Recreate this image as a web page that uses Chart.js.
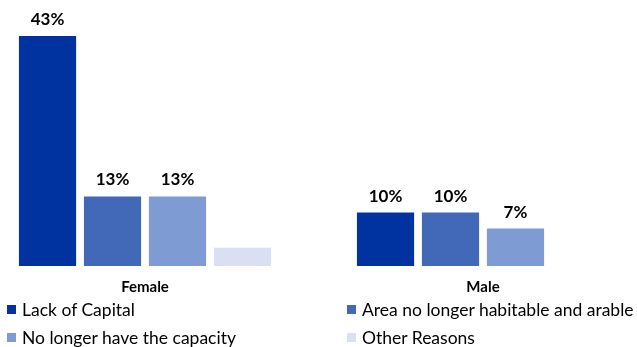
<!DOCTYPE html>
<html>
<head>
<meta charset="utf-8">
<script src="https://cdn.jsdelivr.net/npm/chart.js@4/dist/chart.umd.min.js"></script>
<style>
  html, body { margin: 0; padding: 0; background: #fff; }
  #wrap { position: relative; width: 637px; height: 347px; overflow: hidden; }
  #chart { position: absolute; left: -24px; top: 0; }
  #legend { position: absolute; left: 0; top: 0; width: 637px; height: 347px; pointer-events: none; }
  .item { position: absolute; display: flex; align-items: center; font-family: Lato, sans-serif; font-size: 17.5px; color: #000; height: 20px; white-space: nowrap; }
  .box { width: 9px; height: 9px; margin-right: 6px; }
</style>
</head>
<body>
<div id="wrap">
  <canvas id="chart" width="676" height="347"></canvas>
  <div id="legend"></div>
</div>
<script>
// categorias e séries
const categories = ['Female', 'Male'];
const seriesNames = ['Lack of Capital', 'Area no longer habitable and arable', 'No longer have the capacity', 'Other Reasons'];
const lackOfCapital = [43, 10];
const areaNoLonger = [13, 10];
const noCapacity = [13, 7];
const otherReasons = [3.4, 0];
// rótulos que aparecem em cima das barras (null = sem rótulo)
const lackLabels = ['43%', '10%'];
const areaLabels = ['13%', '10%'];
const capacityLabels = ['13%', '7%'];
const otherLabels = [null, null];

const colors = ['#0033a0', '#4169b8', '#7f9bd3', '#dae0f2'];
const values = [lackOfCapital, areaNoLonger, noCapacity, otherReasons];
const labels = [lackLabels, areaLabels, capacityLabels, otherLabels];

// plugin simples para desenhar os valores acima das barras
const barLabels = {
    id: 'barLabels',
    afterDatasetsDraw(chart) {
        const ctx = chart.ctx;
        ctx.save();
        ctx.font = 'bold 17px Lato, sans-serif';
        ctx.fillStyle = '#000';
        ctx.textAlign = 'center';
        ctx.textBaseline = 'alphabetic';
        chart.data.datasets.forEach((ds, i) => {
            const meta = chart.getDatasetMeta(i);
            meta.data.forEach((bar, j) => {
                const txt = labels[i][j];
                if (txt) ctx.fillText(txt, bar.x, bar.y - 11);
            });
        });
        ctx.restore();
    }
};

const ctx = document.getElementById('chart').getContext('2d');
new Chart(ctx, {
    type: 'bar',
    data: {
        labels: categories,
        datasets: seriesNames.map((name, i) => ({
            label: name,
            data: values[i],
            backgroundColor: colors[i],
            categoryPercentage: 0.769,
            barPercentage: 0.88
        }))
    },
    options: {
        responsive: false,
        animation: false,
        layout: { padding: { left: 0, right: 0, top: 4, bottom: 51 } },
        plugins: { legend: { display: false }, tooltip: { enabled: false } },
        scales: {
            x: {
                grid: { display: false },
                border: { display: false },
                ticks: { color: '#000', padding: 4, font: { family: 'Lato', size: 15, weight: 'bold' } },
                afterFit(scale) { scale.height = 30; }
            },
            y: { display: false, min: 0, max: 49 }
        }
    },
    plugins: [barLabels]
});

// legenda em duas colunas
const legendPos = [[7, 299], [347, 299], [7, 327], [347, 327]];
const legendEl = document.getElementById('legend');
seriesNames.forEach((name, i) => {
    legendEl.innerHTML += `<div class="item" style="left:${legendPos[i][0]}px;top:${legendPos[i][1]}px"><span class="box" style="background:${colors[i]}"></span>${name}</div>`;
});
</script>
</body>
</html>
